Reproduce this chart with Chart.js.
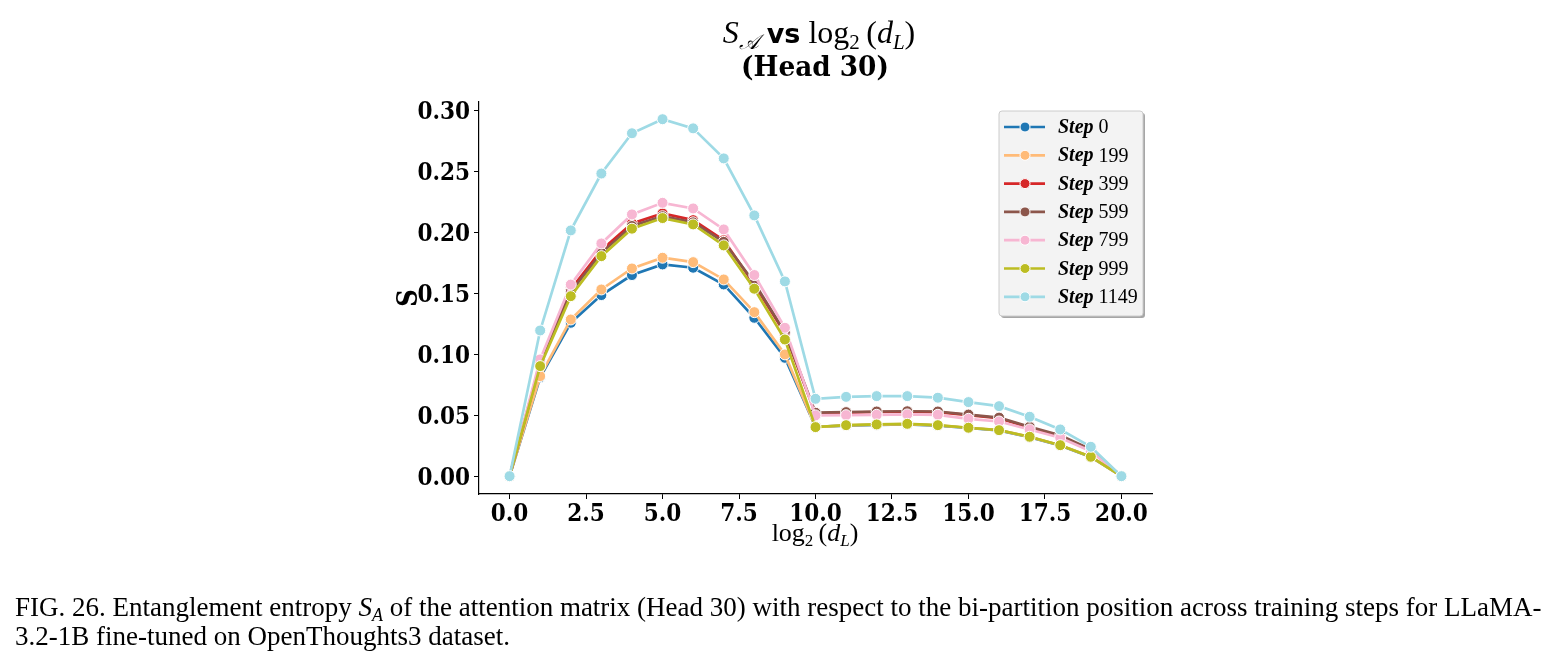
<!DOCTYPE html>
<html>
<head>
<meta charset="utf-8">
<script src="https://cdn.jsdelivr.net/npm/chart.js@4.4.0/dist/chart.umd.min.js"></script>
<style>
  html, body { margin: 0; padding: 0; background: #fff; }
  #wrap { position: relative; width: 1555px; height: 668px; overflow: hidden; }
  #grafico { position: absolute; left: 0; top: 0; }
  .titulo { position: absolute; left: 569px; width: 500px; text-align: center; color: #000; white-space: nowrap; }
  #t1 { top: 14px; font-family: 'Liberation Serif', serif; font-size: 32px; }
  #t1 .vs { font-family: 'DejaVu Sans', sans-serif; font-weight: bold; font-size: 27px; }
  #t1 sub { font-size: 21px; vertical-align: -6px; line-height: 0; }
  #t2 { left: 565px; top: 50px; font-family: 'DejaVu Serif', serif; font-weight: bold; font-size: 28px; transform: scaleX(0.94); }
  #xtitulo { position: absolute; left: 665px; width: 300px; top: 518px; text-align: center; font-family: 'Liberation Serif', serif; font-size: 26px; }
  #xtitulo sub { font-size: 17px; vertical-align: -5px; line-height: 0; }
  #legenda { position: absolute; left: 15px; top: 593px; width: 1540px; font-family: 'Liberation Serif', serif; font-size: 27px; line-height: 29px; color: #000; white-space: nowrap; }
  #legenda sub { font-size: 18px; vertical-align: -5px; line-height: 0; }
</style>
</head>
<body>
<div id="wrap">
  <canvas id="grafico" width="1555" height="668"></canvas>
  <div class="titulo" id="t1"><i>S</i><sub><i>𝒜</i></sub> <span class="vs">vs</span> log<sub>2</sub>&thinsp;(<i>d</i><sub><i>L</i></sub>)</div>
  <div class="titulo" id="t2">(Head 30)</div>
  <div id="xtitulo">log<sub>2</sub>&thinsp;(<i>d</i><sub><i>L</i></sub>)</div>
  <div id="legenda">FIG. 26. Entanglement entropy <i>S</i><sub><i>A</i></sub> of the attention matrix (Head 30) with respect to the bi-partition position across training steps for LLaMA-<br>3.2-1B fine-tuned on OpenThoughts3 dataset.</div>
</div>
<script>
// dados
const posicoes = [0, 1, 2, 3, 4, 5, 6, 7, 8, 9, 10, 11, 12, 13, 14, 15, 16, 17, 18, 19, 20];
const step0    = [0, 0.081, 0.1257, 0.1484, 0.1648, 0.1735, 0.1708, 0.1571, 0.1298, 0.097, 0.0405, 0.0415, 0.042, 0.0425, 0.0415, 0.0395, 0.0375, 0.032, 0.0252, 0.0158, 0];
const step199  = [0, 0.082, 0.1284, 0.153, 0.1702, 0.179, 0.1754, 0.1612, 0.1344, 0.0998, 0.0402, 0.0417, 0.0422, 0.0427, 0.0417, 0.0397, 0.0377, 0.0322, 0.0254, 0.0159, 0];
const step399  = [0, 0.093, 0.153, 0.1852, 0.2071, 0.2153, 0.2098, 0.1934, 0.157, 0.117, 0.0512, 0.052, 0.0526, 0.0528, 0.0525, 0.05, 0.0475, 0.0398, 0.0328, 0.0215, 0];
const step599  = [0, 0.092, 0.151, 0.183, 0.205, 0.213, 0.208, 0.192, 0.1585, 0.118, 0.052, 0.0525, 0.053, 0.0532, 0.053, 0.0505, 0.048, 0.0405, 0.0335, 0.022, 0];
const step799  = [0, 0.0957, 0.157, 0.1907, 0.2145, 0.224, 0.2194, 0.2022, 0.1648, 0.1216, 0.0498, 0.05, 0.0503, 0.0506, 0.0503, 0.047, 0.0448, 0.0383, 0.0315, 0.0205, 0];
const step999  = [0, 0.0902, 0.1475, 0.1803, 0.2028, 0.2115, 0.2063, 0.1891, 0.1536, 0.112, 0.0402, 0.0418, 0.0424, 0.0429, 0.0418, 0.0397, 0.0377, 0.0323, 0.0254, 0.0159, 0];
const step1149 = [0, 0.1194, 0.2014, 0.248, 0.281, 0.2925, 0.285, 0.2604, 0.2137, 0.1596, 0.0634, 0.065, 0.0656, 0.0656, 0.0643, 0.0607, 0.0574, 0.0487, 0.0383, 0.0241, 0];

const nomesSeries = ['0', '199', '399', '599', '799', '999', '1149'];
const valoresSeries = [step0, step199, step399, step599, step799, step999, step1149];
const cores = ['#1f77b4', '#ffbb78', '#d62728', '#8c564b', '#f7b6d2', '#bcbd22', '#9edae5'];

const xTicks = [0, 2.5, 5, 7.5, 10, 12.5, 15, 17.5, 20];
const yTicks = [0, 0.05, 0.10, 0.15, 0.20, 0.25, 0.30];

Chart.defaults.font.family = "'DejaVu Serif Condensed', 'DejaVu Serif', serif";
Chart.defaults.color = '#000';

const datasets = valoresSeries.map(function(vals, i) {
    return {
        label: 'Step ' + nomesSeries[i],
        data: posicoes.map((x, k) => ({ x: x, y: vals[k] })),
        borderColor: cores[i],
        backgroundColor: cores[i],
        borderWidth: 2.7,
        pointRadius: 5.5,
        pointBackgroundColor: cores[i],
        pointBorderColor: '#ffffff',
        pointBorderWidth: 1,
        tension: 0,
        order: valoresSeries.length - i
    };
});

// legenda desenhada à mão (Step em negrito itálico + número)
const legendaPlugin = {
    id: 'legendaCustom',
    afterDatasetsDraw(chart) {
        const ctx = chart.ctx;
        const bx = 999, by = 111, bw = 144, bh = 205;
        ctx.save();
        ctx.fillStyle = 'rgba(0,0,0,0.35)';
        ctx.beginPath();
        ctx.roundRect(bx + 2, by + 2, bw, bh, 3);
        ctx.fill();
        ctx.fillStyle = '#f3f3f3';
        ctx.strokeStyle = '#cccccc';
        ctx.lineWidth = 1;
        ctx.beginPath();
        ctx.roundRect(bx, by, bw, bh, 3);
        ctx.fill();
        ctx.stroke();
        nomesSeries.forEach(function(nome, i) {
            const yy = by + 16 + i * 28.3;
            ctx.strokeStyle = cores[i];
            ctx.lineWidth = 2.7;
            ctx.beginPath();
            ctx.moveTo(1004, yy);
            ctx.lineTo(1045, yy);
            ctx.stroke();
            ctx.fillStyle = cores[i];
            ctx.strokeStyle = '#fff';
            ctx.lineWidth = 1;
            ctx.beginPath();
            ctx.arc(1025, yy, 5, 0, Math.PI * 2);
            ctx.fill();
            ctx.stroke();
            ctx.fillStyle = '#000';
            ctx.textBaseline = 'middle';
            ctx.textAlign = 'left';
            ctx.font = "italic bold 20px 'Liberation Serif'";
            ctx.fillText('Step', 1058, yy + 1);
            const w = ctx.measureText('Step ').width;
            ctx.font = "20px 'Liberation Serif'";
            ctx.fillText(nome, 1058 + w, yy + 1);
        });
        ctx.restore();
    }
};

const ctx = document.getElementById('grafico').getContext('2d');
new Chart(ctx, {
    type: 'line',
    data: { datasets: datasets },
    options: {
        responsive: false,
        animation: false,
        layout: { padding: { left: 394, top: 102, right: 403, bottom: 114 } },
        plugins: {
            legend: { display: false },
            tooltip: { enabled: false },
            title: { display: false }
        },
        scales: {
            x: {
                type: 'linear',
                min: -1,
                max: 21,
                afterBuildTicks: function(scale) { scale.ticks = xTicks.map(v => ({ value: v })); },
                afterFit: function(scale) { scale.height = 60; },
                ticks: {
                    font: { size: 24, weight: 'bold' },
                    padding: 1,
                    maxRotation: 0,
                    callback: v => v.toFixed(1)
                },
                grid: { display: true, drawOnChartArea: false, drawTicks: true, tickLength: 5, color: '#000', lineWidth: 1 },
                border: { display: true, color: '#000', width: 1.2 },
                title: { display: false }
            },
            y: {
                type: 'linear',
                min: -0.0146,
                max: 0.3066,
                afterBuildTicks: function(scale) { scale.ticks = yTicks.map(v => ({ value: v })); },
                afterFit: function(scale) { scale.width = 85; },
                ticks: {
                    font: { size: 24, weight: 'bold' },
                    padding: 4,
                    labelOffset: 2.5,
                    callback: v => v.toFixed(2)
                },
                grid: { display: true, drawOnChartArea: false, drawTicks: true, tickLength: 5, color: '#000', lineWidth: 1 },
                border: { display: true, color: '#000', width: 1.2 },
                title: {
                    display: true,
                    text: 'S',
                    font: { size: 27, weight: 'bold' },
                    padding: 0
                }
            }
        }
    },
    plugins: [legendaPlugin]
});
</script>
</body>
</html>
